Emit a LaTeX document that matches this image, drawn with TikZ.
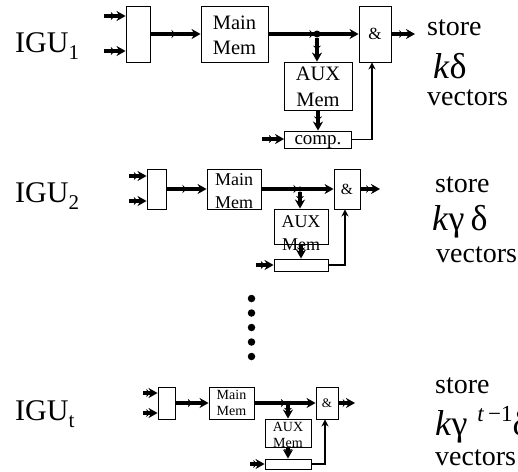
\documentclass[tikz,border=0pt]{standalone}
\usepackage{fontspec}
\setmainfont{Liberation Serif}
\usetikzlibrary{arrows.meta,decorations.markings,positioning}
\newcommand{\igusub}[1]{\raisebox{-7.7pt}{\fontsize{21}{21}\selectfont #1}}
\tikzset{
blk/.style={draw,inner sep=0pt,fill=none,line width=.9pt},
flow/.style={line width=3.3pt,-{Stealth[length=9pt,width=10pt]},
  postaction={decorate,decoration={markings,mark=at position .5 with {\arrow[line width=.4pt]{Stealth[length=4pt,width=8pt]}}}}},
feed/.style={line width=1.6pt,-{Stealth[length=7pt,width=7pt]}},
jdot/.style={circle,fill=black,inner sep=0pt,minimum size=7pt},
dotb/.style={circle,fill=black,inner sep=0pt,minimum size=7.5pt},
bigt/.style={anchor=base west,inner sep=0pt,font=\fontsize{30}{30}\selectfont},
sidet/.style={anchor=base west,inner sep=0pt,font=\fontsize{28}{28}\selectfont},
mult/.style={anchor=base west,inner sep=0pt,font=\fontsize{36}{36}\selectfont},
txta/.style={inner sep=0pt,align=center,font=\fontsize{20.5}{25.5}\selectfont},
txtb/.style={inner sep=0pt,align=center,font=\fontsize{18}{23}\selectfont},
txtc/.style={inner sep=0pt,align=center,font=\fontsize{14}{16.5}\selectfont}
}
\begin{document}
\begin{tikzpicture}[x=1pt,y=-1pt,on grid]
\useasboundingbox (0,0) rectangle (518,471);

% first unit
\node[bigt] (igu1) at (15,52) {IGU\igusub{1}};
\node[blk,minimum width=24pt,minimum height=56pt] (box1) at (138,34) {};
\node[blk,minimum width=67pt,minimum height=56pt] (main1) [right=96.5pt of box1] {};
\node[blk,minimum width=32pt,minimum height=56pt] (and1) [right=140.5pt of main1] {};
\node[blk,minimum width=68pt,minimum height=48pt] (aux1) [below right=52pt and 83.5pt of main1] {};
\node[blk,minimum width=67pt,minimum height=17pt] (comp1) [below=53.5pt of aux1] {};
\node[txta] (maint1) at ([yshift=-1.5pt]main1.center) {Main\\Mem};
\node[txta] (auxt1) at ([yshift=-1pt]aux1.center) {AUX\\Mem};
\node[inner sep=0pt,font=\fontsize{19}{19}\selectfont] (compt1) at ([yshift=-2.5pt]comp1.center) {comp.};
\node[inner sep=0pt,font=\fontsize{17}{17}\selectfont] (andt1) at (and1.center) {\&};
\node[jdot] (j1) at (317,34) {};
\coordinate (ina1) at (104,16);
\coordinate (inb1) at (104,51);
\coordinate (inc1) at (262,139);
\coordinate (out1) at (415,34);
\draw[flow] (ina1) -- (ina1 -| box1.west);
\draw[flow] (inb1) -- (inb1 -| box1.west);
\draw[flow] (box1.east) -- (main1.west);
\draw[flow] (main1.east) -- (and1.west);
\draw[flow] (j1) -- (j1 |- aux1.north);
\draw[flow] (aux1.south) -- (comp1.north);
\draw[flow] (inc1) -- (inc1 -| comp1.west);
\draw[flow] (and1.east) -- (out1);
\draw[feed] (comp1.east) -| ([xshift=-3pt]and1.south);
\node[sidet] (st1) at (427,35) {store};
\node[mult] (kd1) at (433,78) {\textit{k}δ};
\node[sidet] (ve1) at (427,105) {vectors};

% second unit
\node[bigt] (igu2) at (15,202) {IGU\igusub{2}};
\node[blk,minimum width=19pt,minimum height=40pt] (box2) at (156.5,189) {};
\node[blk,minimum width=54pt,minimum height=40pt] (main2) [right=77.5pt of box2] {};
\node[blk,minimum width=26pt,minimum height=40pt] (and2) [right=113pt of main2] {};
\node[blk,minimum width=54pt,minimum height=35pt] (aux2) [below right=37.5pt and 67pt of main2] {};
\node[blk,minimum width=54pt,minimum height=12pt] (comp2) [below=38.5pt of aux2] {};
\node[txtb] (maint2) at ([yshift=-2pt]main2.center) {Main\\Mem};
\node[txtb] (auxt2) at ([yshift=-7pt]aux2.center) {AUX\\Mem};
\node[inner sep=0pt,font=\fontsize{15.5}{15.5}\selectfont] (andt2) at (and2.center) {\&};
\node[jdot,minimum size=5pt] (j2) at (300,189) {};
\coordinate (ina2) at (129,176);
\coordinate (inb2) at (129,201);
\coordinate (inc2) at (256,265);
\coordinate (out2) at (380,189);
\draw[flow] (ina2) -- (ina2 -| box2.west);
\draw[flow] (inb2) -- (inb2 -| box2.west);
\draw[flow] (box2.east) -- (main2.west);
\draw[flow] (main2.east) -- (and2.west);
\draw[flow] (j2) -- (j2 |- aux2.north);
\draw[flow] (aux2.south) -- (comp2.north);
\draw[flow] (inc2) -- (inc2 -| comp2.west);
\draw[flow] (and2.east) -- (out2);
\draw[feed] (comp2.east) -| ([xshift=-2pt]and2.south);
\node[sidet] (st2) at (435,192) {store};
\node[mult] (kd2) at (432,230) {\textit{k}γ\,δ};
\node[sidet] (ve2) at (436,262) {vectors};

% dots between the units
\node[dotb] (d1) at (251.5,298.5) {};
\node[dotb] (d2) [below=14.5pt of d1] {};
\node[dotb] (d3) [below=14.5pt of d2] {};
\node[dotb] (d4) [below=14.5pt of d3] {};
\node[dotb] (d5) [below=14.5pt of d4] {};

% last unit
\node[bigt] (igu3) at (15,420) {IGU\igusub{t}};
\node[blk,minimum width=17pt,minimum height=32pt] (box3) at (166.5,403) {};
\node[blk,minimum width=45pt,minimum height=32pt] (main3) [right=65pt of box3] {};
\node[blk,minimum width=22pt,minimum height=32pt] (and3) [right=95.5pt of main3] {};
\node[blk,minimum width=46pt,minimum height=28pt] (aux3) [below right=30pt and 56.5pt of main3] {};
\node[blk,minimum width=46pt,minimum height=10pt] (comp3) [below=31pt of aux3] {};
\node[txtc] (maint3) at (main3.center) {Main\\Mem};
\node[txtc] (auxt3) at ([yshift=-2pt]aux3.center) {AUX\\Mem};
\node[inner sep=0pt,font=\fontsize{13}{13}\selectfont] (andt3) at (and3.center) {\&};
\node[jdot,minimum size=4pt] (j3) at (288,403) {};
\coordinate (ina3) at (143,393);
\coordinate (inb3) at (143,413);
\coordinate (inc3) at (250,464);
\coordinate (out3) at (355,403);
\draw[flow] (ina3) -- (ina3 -| box3.west);
\draw[flow] (inb3) -- (inb3 -| box3.west);
\draw[flow] (box3.east) -- (main3.west);
\draw[flow] (main3.east) -- (and3.west);
\draw[flow] (j3) -- (j3 |- aux3.north);
\draw[flow] (aux3.south) -- (comp3.north);
\draw[flow] (inc3) -- (inc3 -| comp3.west);
\draw[flow] (and3.east) -- (out3);
\draw[feed] (comp3.east) -| ([xshift=-2pt]and3.south);
\node[sidet] (st3) at (435,393) {store};
\node[mult] (kd3) at (435,435) {\textit{k}γ\,\raisebox{14pt}{\fontsize{23}{23}\selectfont\,\textit{t}\,−1}δ};
\node[sidet] (ve3) at (435,465) {vectors};
\end{tikzpicture}
\end{document}
